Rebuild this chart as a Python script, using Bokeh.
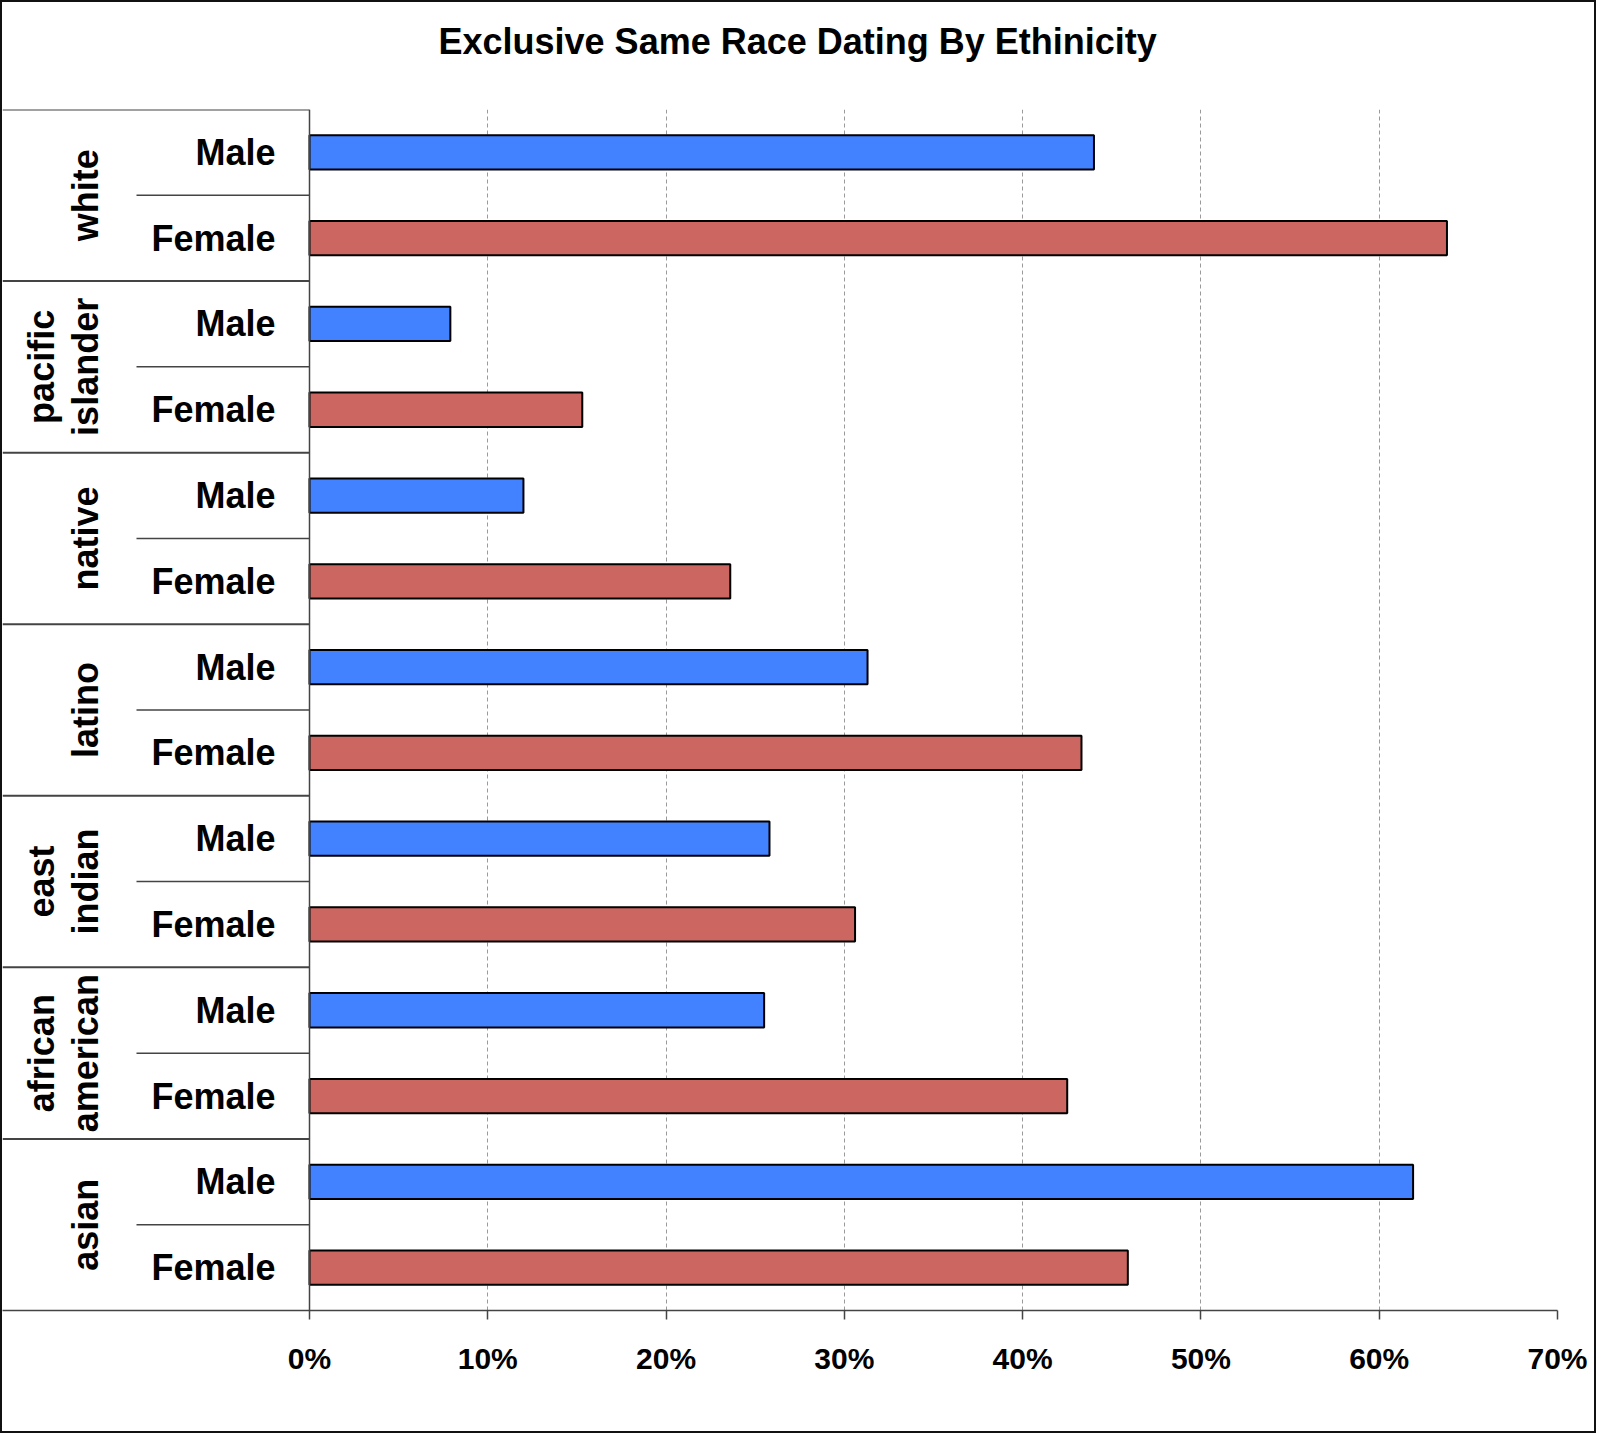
import math
from bokeh.plotting import figure
from bokeh.models import Range1d, FixedTicker, PrintfTickFormatter, Span, ColumnDataSource, Title
from bokeh.core.properties import value
from bokeh.embed import file_html
from bokeh.resources import INLINE

title_text = "Exclusive Same Race Dating By Ethinicity"
groups = ["white", "pacific\nislander", "native", "latino", "east\nindian", "african\namerican", "asian"]
genders = ["Male", "Female"]
male = [44.0, 7.9, 12.0, 31.3, 25.8, 25.5, 61.9]
female = [63.8, 15.3, 23.6, 43.3, 30.6, 42.5, 45.9]
x_ticks = [0, 10, 20, 30, 40, 50, 60, 70]
grid_ticks = [10, 20, 30, 40, 50, 60]

MALE_COLOR = "#4281FF"
FEMALE_COLOR = "#CC6660"
FONT = "Liberation Sans"

BORDER = 2
W, H = 1600 - 2 * BORDER, 1437 - 2 * BORDER
TOP, BOTTOM = 109 - BORDER, 127 - BORDER
ZERO_PX = 309 - BORDER  # frame pixels left of 0%
PLOT_W = 1248           # pixels from 0% to 70%
px_per = PLOT_W / x_ticks[-1]
xmin = -ZERO_PX / px_per
n_rows = len(groups) * len(genders)

p = figure(width=W, height=H, output_backend="svg", toolbar_location=None,
           x_range=Range1d(xmin, x_ticks[-1]), y_range=Range1d(n_rows, 0),
           min_border_left=0, min_border_right=W - ZERO_PX - PLOT_W,
           min_border_top=TOP, min_border_bottom=BOTTOM,
           y_axis_location=None)
p.outline_line_color = None
p.background_fill_color = "white"
p.border_fill_color = "white"
p.styles = {"border": f"{BORDER}px solid #111"}

# spacer between the title and the frame
p.add_layout(Title(text=" ", text_font_size="1px", standoff=25), "above")

p.title.text = title_text
p.title.align = "left"
p.title.offset = 438 - BORDER
p.title.vertical_align = "top"
p.title.text_font = FONT
p.title.text_font_size = "36px"
p.title.text_font_style = "bold"
p.title.text_color = "black"
p.title.standoff = 36

# grid
p.ygrid.visible = False
p.xgrid.ticker = FixedTicker(ticks=grid_ticks)
p.xgrid.grid_line_color = "#9a9a9a"
p.xgrid.grid_line_dash = "4 3"
p.xgrid.grid_line_width = 1

# axis
ax = p.xaxis[0]
ax.ticker = FixedTicker(ticks=x_ticks)
ax.formatter = PrintfTickFormatter(format="%d%%")
ax.major_tick_out = 9
ax.major_tick_in = 0
ax.minor_tick_line_color = None
ax.axis_line_color = "#444444"
ax.axis_line_width = 1.5
ax.major_tick_line_color = "#444444"
ax.major_tick_line_width = 1.5
ax.major_label_text_font = FONT
ax.major_label_text_font_size = "30px"
ax.major_label_text_font_style = "bold"
ax.major_label_text_color = "black"
ax.major_label_standoff = 22

# table lines
sub_x = -(ZERO_PX - 134) / px_per
gy = [2 * g for g in range(len(groups))]
sy = [2 * g + 1 for g in range(len(groups))]
p.segment(x0=[xmin] * len(gy), y0=gy, x1=[0] * len(gy), y1=gy, line_color="#444444", line_width=2)
p.segment(x0=[sub_x] * len(sy), y0=sy, x1=[0] * len(sy), y1=sy, line_color="#444444", line_width=1.5)
p.add_layout(Span(location=0, dimension="height", line_color="#444444", line_width=1.5))

# bars
src_m = ColumnDataSource(dict(y=[2 * g + 0.5 for g in range(len(groups))], v=male))
src_f = ColumnDataSource(dict(y=[2 * g + 1.5 for g in range(len(groups))], v=female))
p.hbar(y="y", left=0, right="v", height=0.4, source=src_m, fill_color=MALE_COLOR,
       line_color="black", line_width=2)
p.hbar(y="y", left=0, right="v", height=0.4, source=src_f, fill_color=FEMALE_COLOR,
       line_color="black", line_width=2)

# gender labels
lab_y, lab_t = [], []
for g in range(len(groups)):
    for k, gen in enumerate(genders):
        lab_y.append(2 * g + k + 0.5)
        lab_t.append(gen)
p.text(x=[0] * len(lab_y), y=lab_y, text=lab_t, x_offset=-34, text_align="right",
       text_baseline="middle", text_font=value(FONT), text_font_size="36px",
       text_font_style="bold", text_color="black")

# group labels (rotated)
gx, gyy, gt, goff = [], [], [], []
for g, name in enumerate(groups):
    lines = name.split("\n")
    n = len(lines)
    for j, ln in enumerate(lines):
        gt.append(ln)
        gyy.append(2 * g + 1)
        gx.append(0)
        goff.append(-224 - (n - 1 - j) * 44)
p.text(x=gx, y=gyy, text=gt, x_offset=goff, angle=math.pi / 2, text_align="center",
       text_baseline="middle", text_font=value(FONT), text_font_size="36px",
       text_font_style="bold", text_color="black")

open("out.html", "w").write(file_html(p, INLINE))
